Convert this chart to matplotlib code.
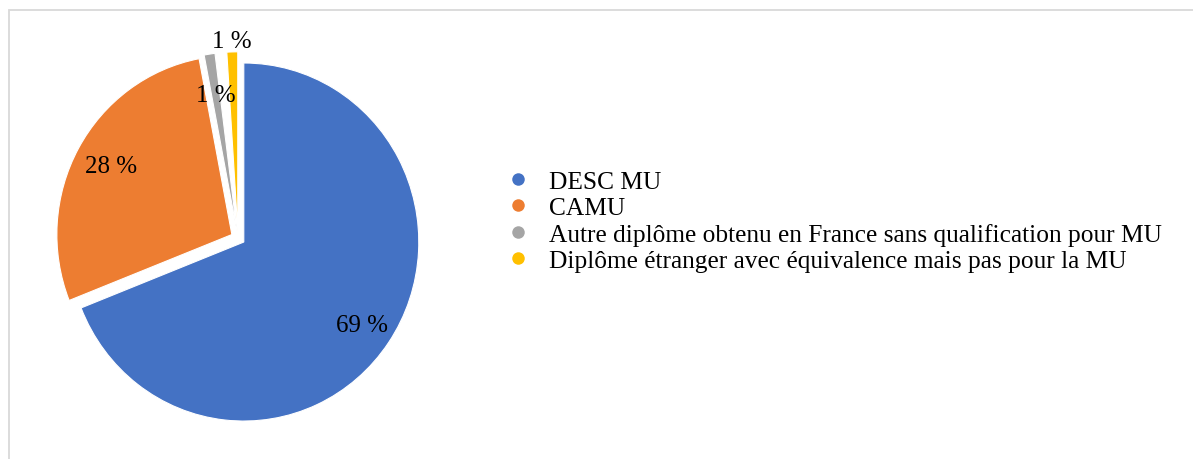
import numpy as np
import matplotlib.pyplot as plt
from matplotlib.patches import Rectangle

plt.rcParams['font.family'] = ['Liberation Serif', 'DejaVu Serif']

# data
categories = ['DESC MU', 'CAMU',
              'Autre diplôme obtenu en France sans qualification pour MU',
              'Diplôme étranger avec équivalence mais pas pour la MU']
shares = [69, 28, 1, 1]
pct_labels = ['69 %', '28 %', '1 %', '1 %']
colors = ['#4472c4', '#ed7d31', '#a5a5a5', '#ffc000']
# labels add up to 99 %: the rounding remainder shows as an empty gap in the pie
remainder = 100 - sum(shares)

W, H = 1193, 460
sy = 1.023  # the source image is very slightly stretched vertically
fig = plt.figure(figsize=(W / 100, H / 100), dpi=100)
ax = fig.add_axes([0, 0, 1, 1])

# light grey chart frame (only top and left visible in the crop)
fig.patches.append(Rectangle((8.5 / W, -0.1), 1.2, (H - 10.5) / H + 0.1, transform=fig.transFigure,
                             fill=False, edgecolor='#d9d9d9', linewidth=1.3))

radius = 175
center = (238, (H - 239) / sy)
values = shares[:3] + [remainder] + shares[3:]
fills = colors[:3] + ['none'] + colors[3:]
wedges, _ = ax.pie(values, colors=fills, startangle=90, counterclock=False,
                   explode=[0.04 * radius] * len(values), radius=radius, center=center,
                   wedgeprops=dict(linewidth=0.8, edgecolor='white'))
wedges[3].set_edgecolor('none')
wedges = wedges[:3] + wedges[4:]

# pie() forces an equal aspect; undo it so the slight stretch applies
ax.set_aspect('auto')
ax.set_xlim(0, W)
ax.set_ylim(0, H / sy)
ax.axis('off')

# percentage labels, placed along each wedge's mid-angle
dists = [0.82, 0.79, 0.77, 1.06]
for w, lab, d in zip(wedges, pct_labels, dists):
    ang = np.deg2rad((w.theta1 + w.theta2) / 2)
    cx, cy = w.center
    ax.text(cx + d * radius * np.cos(ang), cy + d * radius * np.sin(ang), lab,
            ha='center', va='center', fontsize=18, color='#000000')

handles = [plt.Line2D([], [], marker='o', linestyle='', markersize=9,
                      markerfacecolor=c, markeredgecolor='none') for c in colors]
fig.legend(handles, categories, loc='center left', bbox_to_anchor=(505 / W, 1 - 222 / H),
           frameon=False, fontsize=18.3, handletextpad=0.75, labelspacing=0.14,
           handlelength=1.0, borderaxespad=0, borderpad=0)

fig.savefig('out.png', dpi=100)
